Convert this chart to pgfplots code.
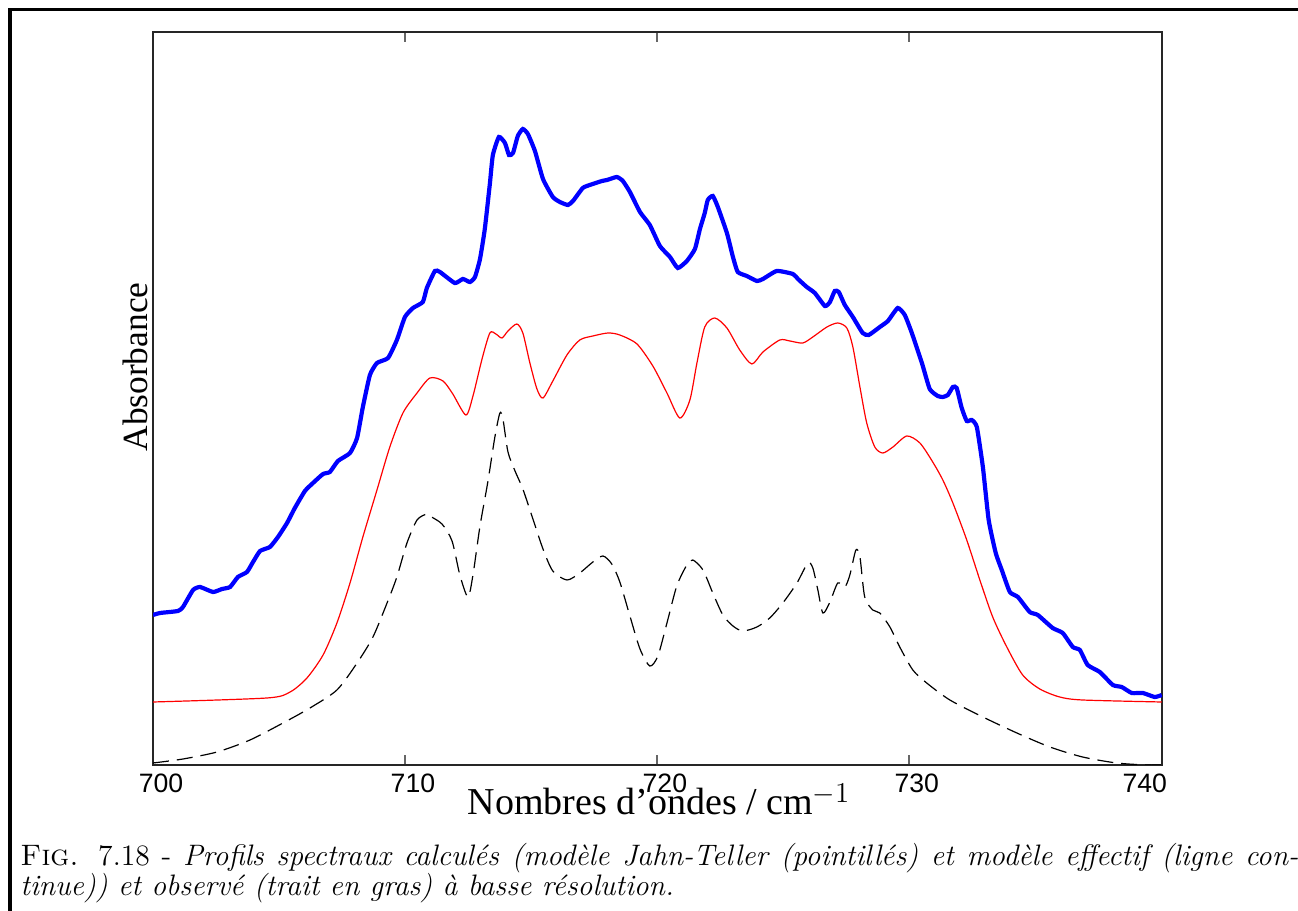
\documentclass[border=0pt]{standalone}
\usepackage{fontspec}
\usepackage{pgfplots}
\pgfplotsset{compat=1.18}
\newfontfamily\tickfont{Liberation Sans}
\newfontfamily\labfont{Liberation Serif}
\begin{document}
\begin{tikzpicture}
\useasboundingbox (0,0) rectangle (649pt,455.5pt);
\begin{axis}[
  at={(76.5pt,73pt)}, anchor=south west,
  width=504.5pt, height=366.5pt, scale only axis,
  xmin=700, xmax=740.05, ymin=0, ymax=733,
  axis line style={line width=0.9pt, black!85},
  xtick={700,710,720,730}, xticklabels={700,710,720,730},
  extra x ticks={740}, extra x tick labels={740},
  extra x tick style={tick style={draw=none}, xticklabel style={xshift=-12pt}},
  ytick=\empty,
  tick align=inside, major tick length=5pt,
  tick style={black!60, line width=0.8pt},
  xticklabel style={font=\tickfont\fontsize{13.3}{14}\selectfont, xshift=4pt, yshift=-1pt},
  xtick pos=both,
  clip=true,
]
% blue thick: observed
\addplot[blue, line width=2.1pt, smooth, tension=0.3] coordinates {
(700.00,150)(700.28,152)(700.99,154)(701.19,158)(701.59,175)(701.87,178)(702.38,173)(702.74,176)(703.06,178)(703.37,188)(703.73,193)(703.97,203)(704.25,214)(704.64,218)(704.96,228)(705.32,242)(705.63,257)(706.03,274)(706.35,282)(706.75,291)(707.02,293)(707.34,304)(707.82,312)(708.10,327)(708.33,358)(708.61,390)(708.89,402)(709.33,407)(709.68,425)(710.00,448)(710.32,457)(710.71,463)(710.87,477)(711.19,494)(711.39,493)(711.98,482)(712.30,486)(712.58,483)(712.78,488)(712.98,506)(713.17,536)(713.37,581)(713.49,610)(713.73,628)(713.97,622)(714.13,610)(714.29,612)(714.48,629)(714.68,636)(714.88,631)(715.16,614)(715.48,586)(715.87,568)(716.15,563)(716.47,560)(716.67,564)(717.06,577)(717.34,580)(717.82,584)(718.02,585)(718.41,588)(718.65,584)(718.93,573)(719.33,553)(719.72,540)(720.12,519)(720.52,508)(720.83,497)(721.19,504)(721.51,516)(721.71,536)(721.90,552)(722.02,565)(722.22,569)(722.42,558)(722.78,532)(723.02,508)(723.21,493)(723.57,489)(723.97,484)(724.21,486)(724.76,494)(725.40,491)(725.60,486)(725.95,478)(726.27,472)(726.67,459)(726.87,463)(727.06,474)(727.22,473)(727.46,460)(727.78,448)(728.17,432)(728.41,430)(728.85,438)(729.17,444)(729.56,457)(729.84,450)(730.12,432)(730.52,402)(730.83,376)(731.15,369)(731.35,368)(731.55,370)(731.75,378)(731.90,377)(732.10,357)(732.30,344)(732.50,345)(732.70,338)(732.94,298)(733.17,245)(733.45,212)(733.69,195)(734.01,173)(734.33,168)(734.80,153)(735.12,150)(735.71,137)(736.11,132)(736.51,118)(736.79,115)(737.10,100)(737.58,93)(738.10,80)(738.45,78)(738.85,72)(739.29,72)(739.76,68)(740.04,70)
};
% red: effective model
\addplot[red, line width=0.6pt, smooth, tension=0.45] coordinates {
(700.00,63)(704.52,67)(705.44,73)(706.11,87)(706.75,110)(707.30,142)(707.82,182)(708.33,228)(708.89,275)(709.40,318)(709.92,352)(710.48,372)(710.99,387)(711.51,384)(711.90,371)(712.42,350)(712.70,369)(713.06,406)(713.37,432)(713.61,431)(713.85,427)(714.09,434)(714.44,441)(714.68,432)(714.96,402)(715.24,376)(715.48,367)(715.87,384)(716.43,410)(716.94,425)(717.46,429)(718.06,432)(718.53,430)(719.21,421)(719.84,399)(720.40,372)(720.91,347)(721.31,365)(721.59,402)(721.90,438)(722.30,447)(722.78,437)(723.29,415)(723.77,401)(724.21,413)(724.88,425)(725.28,424)(725.79,422)(726.19,428)(726.75,438)(727.18,442)(727.54,437)(727.78,418)(728.06,378)(728.33,342)(728.65,318)(728.97,312)(729.37,318)(729.92,329)(730.44,322)(730.95,303)(731.35,285)(731.75,262)(732.30,225)(732.82,185)(733.33,148)(733.89,118)(734.52,90)(735.20,76)(735.99,68)(736.90,65)(740.04,63)
};
% black dashed: Jahn-Teller model
\addplot[black, line width=0.6pt, dash pattern=on 8pt off 4pt, smooth, tension=0.45] coordinates {
(700.00,2)(701.19,6)(702.54,13)(703.85,25)(705.16,42)(706.23,57)(707.30,75)(708.10,102)(708.73,128)(709.29,162)(709.68,188)(710.08,222)(710.48,245)(710.87,251)(710.99,249)(711.47,241)(711.87,224)(712.18,190)(712.50,168)(712.70,190)(712.98,239)(713.29,283)(713.57,328)(713.77,352)(713.89,346)(714.09,313)(714.37,294)(714.68,276)(715.08,246)(715.48,216)(715.87,194)(716.43,185)(716.94,192)(717.46,203)(717.86,209)(718.21,201)(718.53,183)(718.93,149)(719.33,116)(719.72,99)(720.04,109)(720.40,142)(720.79,179)(721.19,200)(721.43,205)(721.83,195)(722.22,172)(722.62,150)(723.02,139)(723.41,134)(723.97,138)(724.48,147)(725.00,162)(725.56,182)(725.99,202)(726.19,197)(726.39,175)(726.59,152)(726.87,163)(727.18,182)(727.46,178)(727.66,190)(727.90,215)(728.06,208)(728.25,168)(728.57,155)(728.85,152)(729.25,138)(729.64,118)(730.16,95)(730.71,82)(731.63,65)(732.94,48)(734.29,32)(735.60,18)(736.90,8)(738.25,2)(739.44,0)(740.04,0)
};
\end{axis}
\begin{scope}[x=0.5pt,y=-0.5pt,yshift=455.5pt]
% frame
\draw[line width=1.6pt] (10,930) -- (10,9.5) -- (1320,9.5);
% axis labels
\node[rotate=90, anchor=base, font=\labfont\fontsize{17.7}{20}\selectfont] at (148,367) {Absorbance};
\node[anchor=base, font=\labfont\fontsize{19}{22}\selectfont] at (659,815) {Nombres d’ondes / cm$^{-1}$};
% caption
\node[anchor=base west, inner sep=0pt, font=\fontsize{14.8}{13.5}\selectfont] at (20,866)
  {\makebox[639pt][s]{\textsc{Fig.} 7.18 - \textit{Profils spectraux calculés (modèle Jahn-Teller (pointillés) et modèle effectif (ligne con-}}};
\node[anchor=base west, inner sep=0pt, font=\fontsize{14.8}{13.5}\selectfont] at (20,896)
  {\textit{tinue)) et observé (trait en gras) à basse résolution.}};
\end{scope}
\end{tikzpicture}
\end{document}
